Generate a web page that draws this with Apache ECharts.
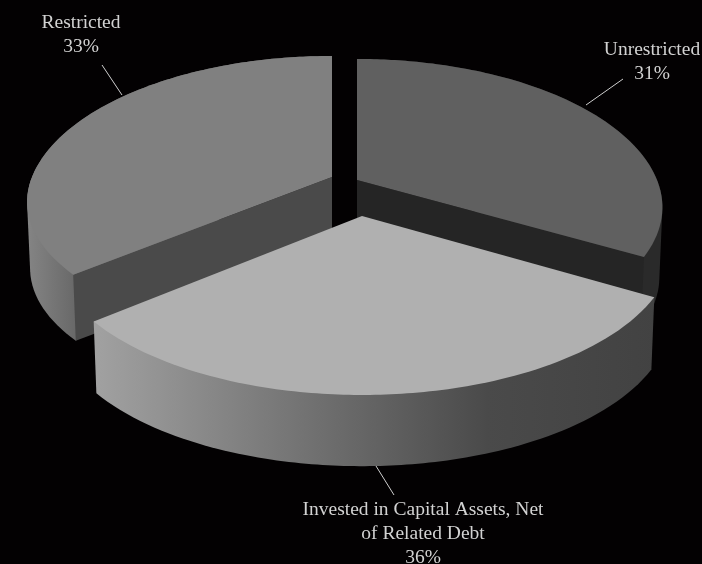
<!DOCTYPE html>
<html>
<head>
<meta charset="utf-8">
<style>html,body{margin:0;padding:0;background:#030102}#c{width:702px;height:564px}</style>
<script src="https://cdn.jsdelivr.net/npm/echarts@6/dist/echarts.min.js"></script>
</head>
<body>
<div id="c"></div>
<script>
// Net position components, clockwise from twelve o'clock
const categories = ['Unrestricted', 'Invested in Capital Assets, Net\nof Related Debt', 'Restricted'];
const shares = [31, 36, 33];

// Back slices are painted first so the exploded front slice overlaps them
const paintOrder = [0, 2, 1];

// Flat faces, cut walls and outer wall shading per slice
const topColors = ['#606060', '#b0b0b0', '#808080'];
const cutColors = ['#252525', '#b0b0b0', '#4a4a4a'];
const wallStops = [
  [[0, '#2a2a2a'], [1, '#2a2a2a']],
  [[0, '#a2a2a2'], [0.46, '#686868'], [0.7, '#4a4a4a'], [1, '#424242']],
  [[0, '#858585'], [1, '#666666']]
];
const wallRanges = [[640, 665], [91, 657], [26, 80]];

// Where each exploded slice's apex lands, and the label and leader placement
const apexes = [[357, 180], [362, 216], [332, 177]];
const labelAt = [[652, 38], [423, 498], [81, 11]];
const leaders = [[[586, 105], [623, 79]], [[376, 466], [394, 495]], [[122, 95], [102, 65]]];

// Per-slice shape trims: angular skew, horizontal stretch, front rim pull-in, wall height
const skews = [-11, -13, -11];
const stretch = [1, 1.02, 1];
const pinch = [0.03, 0, 0.08];
const depths = [70, 73, 67];

// Perspective camera for the tilted disc
const camera = { rx: 300, ry: 144.4, persp: 0.193, shrink: 0.01 };

// Projects a pie angle (radians, clockwise from the back) on the upper or lower face of slice i
function project(i, angle, rim, lower) {
  const apex = apexes[i];
  const warped = angle + skews[i] * Math.PI / 180 * Math.sin(2 * angle);
  const front = Math.max(0, -Math.cos(warped));
  const r = rim * (1 - pinch[i] * front * front);
  const u = r * Math.sin(warped);
  const v = -r * Math.cos(warped);
  const w = 1 - camera.persp * v;
  const s = lower ? 1 - camera.shrink : 1;
  return [
    apex[0] + s * stretch[i] * camera.rx * u / w,
    apex[1] + s * camera.ry * v / w + (lower ? depths[i] : 0)
  ];
}

function arc(i, a0, a1, lower) {
  const pts = [];
  const n = 90;
  for (let k = 0; k <= n; k++) {
    pts.push(project(i, a0 + (a1 - a0) * k / n, 1, lower));
  }
  return pts;
}

// Convex outline of the extruded rim, so the silhouette runs straight between the two faces
function hull(points) {
  const pts = points.slice().sort((a, b) => a[0] - b[0] || a[1] - b[1]);
  const cross = (o, a, b) => (a[0] - o[0]) * (b[1] - o[1]) - (a[1] - o[1]) * (b[0] - o[0]);
  const half = list => {
    const out = [];
    list.forEach(p => {
      while (out.length > 1 && cross(out[out.length - 2], out[out.length - 1], p) <= 0) out.pop();
      out.push(p);
    });
    out.pop();
    return out;
  };
  return half(pts).concat(half(pts.slice().reverse()));
}

const total = shares.reduce((a, b) => a + b, 0);
let running = 0;
const spans = shares.map(s => {
  const a0 = running / total * 2 * Math.PI;
  running += s;
  return [a0, running / total * 2 * Math.PI];
});

function cutWall(i, angle) {
  return [
    project(i, angle, 0, false),
    project(i, angle, 1, false),
    project(i, angle, 1, true),
    project(i, angle, 0, true)
  ];
}

function renderSlice(params, api) {
  const i = api.value(0);
  const [a0, a1] = spans[i];
  const topRim = arc(i, a0, a1, false);
  const lowRim = arc(i, a0, a1, true);
  const wallFill = {
    type: 'linear', global: true,
    x: wallRanges[i][0], y: 0, x2: wallRanges[i][1], y2: 0,
    colorStops: wallStops[i].map(s => ({ offset: s[0], color: s[1] }))
  };
  const children = [
    { type: 'polygon', shape: { points: hull(topRim.concat(lowRim)) }, style: { fill: wallFill } }
  ];
  // A cut wall shows only when its outward normal points toward the viewer
  if (-Math.sin(a0) > 1e-6) {
    children.push({ type: 'polygon', shape: { points: cutWall(i, a0) }, style: { fill: cutColors[i] } });
  }
  if (Math.sin(a1) > 1e-6) {
    children.push({ type: 'polygon', shape: { points: cutWall(i, a1) }, style: { fill: cutColors[i] } });
  }
  children.push(
    { type: 'polygon', shape: { points: [project(i, a0, 0, false)].concat(topRim) }, style: { fill: topColors[i] } },
    { type: 'line', shape: { x1: leaders[i][0][0], y1: leaders[i][0][1], x2: leaders[i][1][0], y2: leaders[i][1][1] },
      style: { stroke: '#cfcfcf', lineWidth: 1 } },
    { type: 'text', x: labelAt[i][0], y: labelAt[i][1],
      style: { text: categories[i] + '\n' + shares[i] + '%', fill: '#d2d2d2', align: 'center', verticalAlign: 'top',
        font: '19.5px "Liberation Serif"', lineHeight: 24 } }
  );
  return { type: 'group', children };
}

const chart = echarts.init(document.getElementById('c'), null, { renderer: 'canvas' });
chart.setOption({
  backgroundColor: '#030102',
  animation: false,
  series: [{
    type: 'custom',
    coordinateSystem: 'none',
    silent: true,
    renderItem: renderSlice,
    encode: { value: 0 },
    data: paintOrder.map(i => [i])
  }]
});
</script>
</body>
</html>
